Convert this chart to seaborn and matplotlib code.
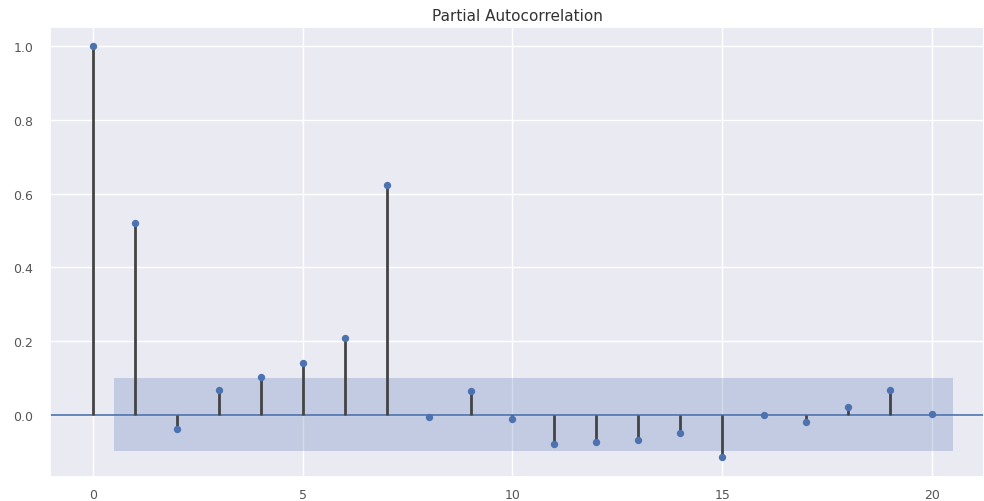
import numpy as np
import pandas as pd
import matplotlib
matplotlib.use("Agg")
import matplotlib.pyplot as plt
import seaborn as sns

lags = list(range(21))
pacf_values = [1.0, 0.52, -0.038, 0.068, 0.103, 0.141, 0.209, 0.623, -0.005, 0.065,
               -0.011, -0.079, -0.073, -0.068, -0.049, -0.114, 0.0, -0.019, 0.022, 0.068, 0.003]
conf_bound = 0.099
x_ticks = [0, 5, 10, 15, 20]
y_ticks = [0.0, 0.2, 0.4, 0.6, 0.8, 1.0]
title = "Partial Autocorrelation"

sns.set_theme(style="darkgrid", rc={"grid.linewidth": 1.0})
df = pd.DataFrame({"lag": lags, "pacf": pacf_values})

fig = plt.figure(figsize=(9.84, 5.02), dpi=100)
ax = fig.add_axes([50 / 984, 1 - 478 / 502, 1 - 50 / 984, (478 - 28) / 502])

blue = sns.color_palette("deep")[0]
band_x = np.array(lags[1:], dtype=float)
band_x[0] -= 0.5
band_x[-1] += 0.5
ax.fill_between(band_x, -conf_bound, conf_bound, color=blue, alpha=0.25, linewidth=0, zorder=1)
ax.axhline(0, color=blue, linewidth=1.2, zorder=2)
ax.vlines(df["lag"], 0, df["pacf"], color="#444444", linewidth=2, zorder=3)
sns.scatterplot(data=df, x="lag", y="pacf", ax=ax, color=blue, s=28, edgecolor=blue,
                linewidth=0, zorder=4)

ax.set_xlim(-1.025, 21.24)
ax.set_ylim(-0.169, 1.052)
ax.set_xticks(x_ticks)
ax.set_yticks(y_ticks)
ax.set_yticklabels([f"{v:.1f}" for v in y_ticks])
ax.tick_params(labelsize=9, colors="#555555")
ax.tick_params(axis="x", pad=2)
ax.tick_params(axis="y", pad=6)
ax.set_xlabel("")
ax.set_ylabel("")
ax.set_title(title, fontsize=11, color="#333333", pad=5)

fig.savefig("out.png", dpi=100)
